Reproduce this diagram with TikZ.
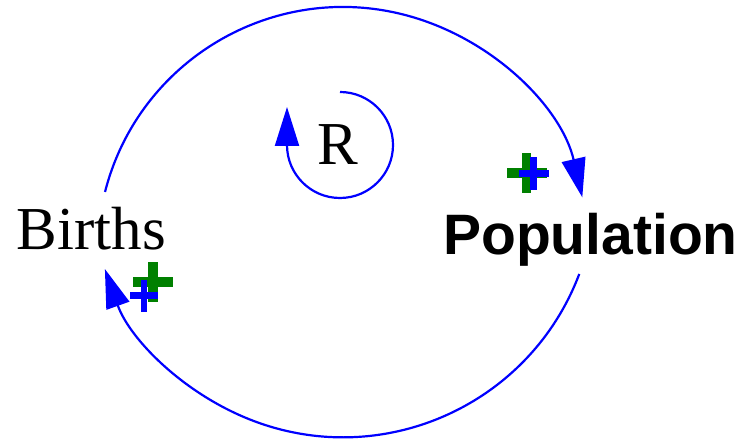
\documentclass[tikz,border=0pt]{standalone}
\usepackage{fontspec}
\setmainfont{Liberation Serif}
\newfontfamily\popfont{Liberation Sans}
\usetikzlibrary{arrows.meta,calc}
\definecolor{linkblue}{RGB}{0,0,255}
\definecolor{plusgreen}{RGB}{0,128,0}
\begin{document}
\begin{tikzpicture}[x=1pt,y=1pt,
  link/.style={draw=linkblue, line width=2.2pt, -{Triangle[length=39pt,width=24pt]}},
  varlabel/.style={anchor=base, inner sep=0pt, font=\fontsize{61}{61}\selectfont},
  stocklabel/.style={anchor=base, inner sep=0pt, font=\popfont\bfseries\fontsize{57}{57}\selectfont},
  gplus/.style={fill=plusgreen},
  bplus/.style={fill=linkblue}]
\useasboundingbox (0,0) rectangle (744,441);
% labels
\node[varlabel] (births) at (91.5,191) {Births};
\node[stocklabel] (pop) at (590.5,186) {Population};
\node[varlabel] (r) at (338,276) {R};
% top link: Births -> Population
\coordinate (c1) at (343,188.4);
\coordinate (birthsout) at ($(c1)+(165.7:245.6)$);
\draw[link] (birthsout) arc[start angle=165.7, end angle=13, radius=245.6];
% bottom link: Population -> Births
\coordinate (c2) at (343,256.3);
\coordinate (popout) at ($(c2)+(-20.7:252.6)$);
\draw[link] (popout) arc[start angle=-20.7, end angle=-160.5, radius=252.6];
% loop marker
\coordinate (loopstart) at (340,349);
\coordinate (looptip) at (287,334);
\draw[link] (loopstart) arc[start angle=90, end angle=-180, radius=53] -- (looptip);
% polarity signs near Population
\fill[gplus] (526.5,268) ++(-20,-4.75) rectangle ++(40,9.5);
\fill[gplus] (526.5,268) ++(-4.75,-20) rectangle ++(9.5,40);
\fill[bplus] (533.5,267.5) ++(-15,-3.75) rectangle ++(30,7.5);
\fill[bplus] (533.5,267.5) ++(-3.5,-16.5) rectangle ++(7,33);
% polarity signs near Births
\fill[gplus] (153,159) ++(-20,-4.75) rectangle ++(40,9.5);
\fill[gplus] (153,159) ++(-4.75,-20) rectangle ++(9.5,40);
\fill[bplus] (144,145) ++(-14,-3.5) rectangle ++(28,7);
\fill[bplus] (144,145) ++(-3.25,-16) rectangle ++(6.5,32);
\end{tikzpicture}
\end{document}
